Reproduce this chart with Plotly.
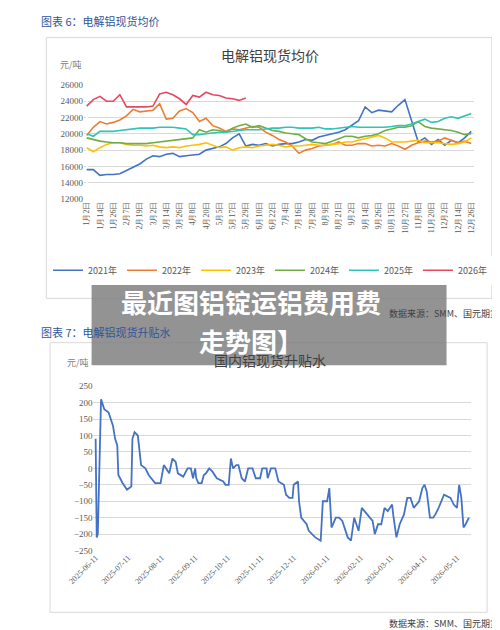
import pandas as pd
import plotly.graph_objects as go

# ---- chart 6: spot average price, x = position on the day-label axis ----
day_labels = ['1月2日', '1月14日', '1月26日', '2月7日', '2月19日', '3月2日', '3月14日', '3月26日',
              '4月8日', '4月20日', '5月5日', '5月17日', '5月29日', '6月10日', '6月22日', '7月4日',
              '7月16日', '7月28日', '8月9日', '8月21日', '9月2日', '9月14日', '9月26日', '10月15日',
              '10月27日', '11月8日', '11月20日', '12月2日', '12月14日', '12月26日']

half_steps = [i / 2 for i in range(59)]

y2021 = [15600, 15600, 14900, 15000, 15000, 15100, 15500, 15900, 16300, 16900, 17300, 17200,
         17500, 17600, 17200, 17300, 17400, 17500, 18000, 18200, 18400, 18800, 19500, 20000,
         18500, 18700, 18600, 18800, 18500, 18700, 18800, 18800, 19000, 19300, 19200, 19600,
         19800, 20000, 20200, 20500, 21000, 21600, 23300, 22600, 22900, 22800, 22700, 23500,
         24200, 21600, 19000, 19500, 18700, 19300, 18600, 19200, 18900, 19500, 20300]
y2022 = [19800, 20800, 21500, 21200, 21400, 21700, 22200, 23000, 22700, 22800, 22900, 23700,
         21800, 21900, 22800, 23100, 22600, 21500, 21900, 21000, 20700, 20300, 20600, 20500,
         20700, 20900, 20800, 20200, 19800, 19300, 19000, 18500, 17600, 18000, 18200, 18500,
         18600, 18700, 19000, 18600, 18600, 18800, 18800, 18500, 18600, 18500, 18800, 18500,
         18100, 18600, 18900, 19100, 19000, 19100, 19500, 19200, 18900, 19100, 18800]
y2023 = [18300, 17800, 18300, 18700, 18900, 18900, 18700, 18600, 18600, 18500, 18600, 18400,
         18300, 18400, 18300, 18500, 18600, 18700, 18900, 18600, 18300, 18400, 18000, 18300,
         18400, 18300, 18500, 18600, 18700, 18600, 18400, 18500, 18500, 18600, 18700, 18600,
         18600, 18700, 18800, 19000, 19000, 19200, 19400, 19600, 19800, 19500, 19000, 19000,
         19000, 19100, 19200, 18900, 18900, 18900, 18800, 18700, 18800, 19000, 19500]
y2024 = [19500, 19300, 19100, 19000, 18900, 18900, 18800, 18800, 18800, 18800, 18900, 19000,
         19100, 19200, 19300, 19400, 19500, 20500, 20200, 20500, 20400, 20200, 20700, 21000,
         21200, 20800, 21000, 20700, 20400, 20300, 20100, 20000, 19900, 19400, 19000, 18900,
         18800, 19100, 19400, 19700, 19700, 19500, 19700, 19800, 20000, 20400, 20600, 20800,
         20800, 21000, 21500, 20900, 20700, 20600, 20500, 20400, 20200, 19900, 20000]
y2025 = [20000, 19700, 20300, 20300, 20300, 20400, 20500, 20600, 20700, 20700, 20700, 20800,
         20800, 20800, 20700, 20600, 19900, 19900, 20000, 20100, 20200, 20200, 20300, 20400,
         20500, 20500, 20500, 20600, 20700, 20700, 20800, 20800, 20700, 20700, 20700, 20800,
         20600, 20600, 20700, 20800, 20900, 20800, 20800, 20800, 20800, 20800, 20900, 21000,
         21000, 21200, 21500, 21800, 21400, 21500, 21900, 22100, 21900, 22200, 22500]
y2026 = [23400, 24200, 24600, 24000, 24000, 24800, 23300, 23300, 23300, 23300, 23400, 24900,
         25100, 24800, 24300, 23600, 24700, 24500, 25100, 24800, 24700, 24400, 24300, 24100, 24400]

years = ['2021年', '2022年', '2023年', '2024年', '2025年', '2026年']
series = [y2021, y2022, y2023, y2024, y2025, y2026]
colors = ['#4472C4', '#ED7D31', '#FFC000', '#70AD47', '#2EC4B6', '#E8475F']

# ---- chart 7: spot premium/discount ----
start = '2025-06-11'
day_offset = [0, 1, 2, 5, 8, 12, 16, 18, 20, 21, 25, 29, 33, 34, 36, 39, 42, 46, 49, 55, 60, 63,
              68, 71, 74, 76, 81, 85, 88, 90, 92, 93, 95, 98, 100, 102, 105, 108, 112, 118, 120,
              123, 125, 127, 130, 132, 135, 138, 141, 145, 148, 152, 154, 158, 159, 162, 166, 169,
              174, 176, 179, 182, 183, 187, 188, 190, 195, 197, 203, 208, 210, 214, 216, 218, 222,
              225, 228, 233, 236, 239, 243, 246, 251, 256, 258, 261, 264, 267, 270, 274, 275, 278,
              281, 285, 288, 291, 294, 299, 302, 304, 306, 309, 312, 314, 317, 322, 328, 331, 334,
              336, 338, 340, 342, 345]
premium = [90, -210, -200, 210, 180, 170, 130, 90, 70, -20, -45, -65, -55, 90, 110, 100, 10, 0,
           -20, -45, -45, 10, -15, 30, 20, -15, -25, 0, 0, -30, 0, -30, -45, -45, -20, -15, 0,
           -10, -30, -40, -50, -50, 30, 0, 10, 10, -30, -40, 0, 0, -30, -30, 0, 0, -30, 0, 0, -40,
           -50, -80, -90, -90, -50, -40, -100, -150, -170, -190, -210, -220, -100, -100, -60,
           -180, -150, -150, -160, -210, -220, -150, -190, -120, -140, -160, -200, -170, -170,
           -120, -130, -110, -140, -210, -170, -140, -90, -90, -120, -100, -60, -50, -70, -150,
           -150, -140, -120, -80, -90, -110, -120, -50, -90, -180, -170, -150]
month_ticks = ['2025-06-11', '2025-07-11', '2025-08-11', '2025-09-11', '2025-10-11', '2025-11-11',
               '2025-12-11', '2026-01-11', '2026-02-11', '2026-03-11', '2026-04-11', '2026-05-11']

dates = pd.to_datetime(start) + pd.to_timedelta(day_offset, unit='D')

fig = go.Figure()
for name, ys, c in zip(years, series, colors):
    fig.add_trace(go.Scatter(x=half_steps[:len(ys)], y=ys, name=name, mode='lines',
                             line=dict(color=c, width=1.6), xaxis='x', yaxis='y'))
fig.add_trace(go.Scatter(x=dates, y=premium, mode='lines', showlegend=False,
                         line=dict(color='#4472C4', width=1.8), xaxis='x2', yaxis='y2'))

grid = '#D9D9D9'
tickfont = dict(size=8, color='#595959', family='Liberation Serif')
fig.update_layout(
    width=500, height=630, margin=dict(l=0, r=0, t=0, b=0),
    paper_bgcolor='white', plot_bgcolor='white',
    font=dict(family='Noto Sans CJK SC'),
    xaxis=dict(domain=[0.106, 0.932], range=[-0.2, 29.2], tickmode='array',
               tickvals=list(range(30)), ticktext=day_labels, tickangle=-90,
               tickfont=tickfont, showgrid=False, showline=False, ticks=''),
    yaxis=dict(domain=[0.70, 0.884], range=[12000, 26000], dtick=2000, gridcolor=grid,
               tickfont=dict(size=9, color='#595959', family='Liberation Serif'),
               tickformat='d', zeroline=False),
    xaxis2=dict(domain=[0.126, 0.926], anchor='y2', tickvals=month_ticks,
                tickformat='%Y-%m-%d', tickangle=-45, tickfont=tickfont, showgrid=False,
                range=['2025-06-09', '2026-05-24']),
    yaxis2=dict(domain=[0.133, 0.398], anchor='x2', range=[-250, 250], dtick=50,
                gridcolor=grid, tickfont=dict(size=9, color='#595959', family='Liberation Serif'),
                zeroline=False),
    legend=dict(orientation='h', x=0.5, xanchor='center', y=0.585, yanchor='middle',
                font=dict(size=9, color='#595959'), itemwidth=30, tracegroupgap=0),
)

blue_txt = '#2F5597'
ann = [
    dict(x=0.01, y=0.987, text='图表 6：电解铝现货均价', font=dict(size=11, color=blue_txt), xanchor='left'),
    dict(x=0.5, y=0.932, text='电解铝现货均价', font=dict(size=14, color='#404040')),
    dict(x=0.05, y=0.917, text='元/吨', font=dict(size=9, color='#808080'), xanchor='left'),
    dict(x=0.99, y=0.516, text='数据来源：SMM、国元期货', font=dict(size=9, color='#404040'), xanchor='right'),
    dict(x=0.01, y=0.486, text='图表 7：电解铝现货升贴水', font=dict(size=11, color=blue_txt), xanchor='left'),
    dict(x=0.5, y=0.44, text='国内铝现货升贴水', font=dict(size=14, color='#404040')),
    dict(x=0.065, y=0.437, text='元/吨', font=dict(size=9, color='#808080'), xanchor='left'),
    dict(x=0.99, y=0.016, text='数据来源：SMM、国元期货', font=dict(size=9, color='#404040'), xanchor='right'),
    dict(x=0.46, y=0.535, text='<b>最近图铝锭运铝费用费</b>', font=dict(size=26, color='white')),
    dict(x=0.46, y=0.472, text='<b>走势图】</b>', font=dict(size=26, color='white')),
]
for a in ann:
    a.update(xref='paper', yref='paper', showarrow=False, yanchor='middle')
    a.setdefault('xanchor', 'center')
    fig.add_annotation(**a)

fig.add_shape(type='rect', xref='paper', yref='paper', x0=0.026, x1=0.97, y0=1 - 290 / 630,
              y1=1 - 25 / 630, line=dict(color='#D9D9D9', width=1), layer='below')
fig.add_shape(type='rect', xref='paper', yref='paper', x0=0.034, x1=0.96, y0=1 - 609 / 630,
              y1=1 - 335 / 630, line=dict(color='#D9D9D9', width=1), layer='below')
fig.add_shape(type='rect', xref='paper', yref='paper', x0=0.122, x1=0.874, y0=1 - 358 / 630,
              y1=1 - 270 / 630, fillcolor='rgba(128,128,128,0.85)', line=dict(width=0), layer='above')

fig.write_html("out.html")
